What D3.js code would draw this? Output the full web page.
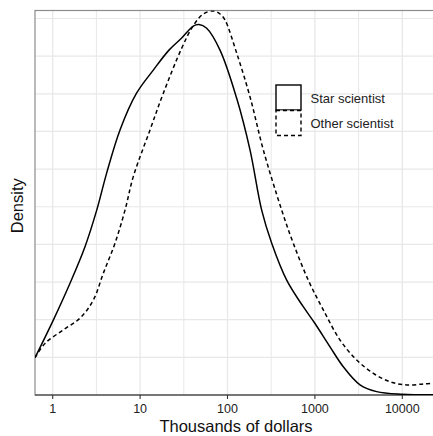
<!DOCTYPE html>
<html lang="en">
<head>
  <meta charset="UTF-8">
  <title>Density - Star vs Other scientist</title>
  <script src="https://d3js.org/d3.v7.min.js"></script>
  <style>
    body {
      margin: 0;
      background-color: #ffffff;
      font-family: "Liberation Sans", Arial, sans-serif;
    }
    .grid line {
      stroke: #e8e8e8;
    }
    .tick-label {
      font-size: 12.5px;
      fill: #222;
    }
    .axis-title {
      font-size: 16.5px;
      fill: #111;
    }
    .legend-text {
      font-size: 13px;
      fill: #222;
    }
  </style>
</head>
<body>
  <svg width="433" height="436"></svg>
  <script>
    // Thousands of dollars (log scale) and density
    const starX = [0.627, 1.016, 1.578, 2.342, 3.19, 4.15, 5.89, 9.07, 14.16, 21.4, 29.9, 40.6, 47.2,
                   57.8, 82.1, 127.4, 180.9, 246, 320.5, 475.6, 736, 1002, 1489, 2114, 3280, 5093, 9930, 23000];
    const starY = [0.099, 0.199, 0.297, 0.394, 0.491, 0.590, 0.704, 0.801, 0.863, 0.916, 0.948, 0.980, 0.984,
                   0.974, 0.916, 0.788, 0.651, 0.491, 0.403, 0.305, 0.2345, 0.190, 0.128, 0.075, 0.027, 0.009, 0.002, 0.0005];

    const otherX = [0.627, 0.816, 1.322, 2.053, 2.914, 3.79, 5.16, 6.72, 8.36, 12.98, 18.4, 29.9, 40.6,
                    52.9, 68.8, 82.1, 93.6, 127.4, 180.9, 256.9, 417, 566, 840, 1248, 1937, 3008, 4660, 7230,
                    11220, 17390, 23000];
    const otherY = [0.099, 0.137, 0.173, 0.204, 0.252, 0.323, 0.403, 0.491, 0.580, 0.704, 0.801, 0.921, 0.981,
                    1.012, 1.020, 1.012, 0.996, 0.908, 0.792, 0.651, 0.491, 0.403, 0.305, 0.226, 0.146, 0.093,
                    0.0576, 0.0353, 0.0266, 0.0292, 0.031];

    const xTicks = [1, 10, 100, 1000, 10000];
    const xMinor = [Math.sqrt(10), Math.sqrt(1000), Math.sqrt(100000), Math.sqrt(10000000)];
    const yGrid = [0.1, 0.2, 0.3, 0.4, 0.5, 0.6, 0.7, 0.8, 0.9, 1.0];

    const series = [
      { name: "Star scientist", xs: starX, ys: starY, dash: null },
      { name: "Other scientist", xs: otherX, ys: otherY, dash: "4,3" }
    ];

    const panel = { left: 35, top: 10.5, right: 437, bottom: 395 };

    const svg = d3.select("svg");

    const x = d3.scaleLog()
      .domain([1, 10000])
      .range([52.7, 402.3]);

    const y = d3.scaleLinear()
      .domain([0, 1])
      .range([395, 18.5]);

    svg.append("defs").append("clipPath")
      .attr("id", "clip")
      .append("rect")
      .attr("x", panel.left)
      .attr("y", panel.top)
      .attr("width", panel.right - panel.left)
      .attr("height", panel.bottom - panel.top);

    // Gridlines
    const grid = svg.append("g").attr("class", "grid");
    grid.selectAll(".minor-x")
      .data(xMinor)
      .enter()
      .append("line")
      .attr("x1", d => x(d)).attr("x2", d => x(d))
      .attr("y1", panel.top).attr("y2", panel.bottom)
      .attr("stroke-width", 1);
    grid.selectAll(".major-x")
      .data(xTicks)
      .enter()
      .append("line")
      .attr("x1", d => x(d)).attr("x2", d => x(d))
      .attr("y1", panel.top).attr("y2", panel.bottom)
      .attr("stroke-width", 1.3);
    grid.selectAll(".major-y")
      .data(yGrid)
      .enter()
      .append("line")
      .attr("x1", panel.left).attr("x2", panel.right)
      .attr("y1", d => y(d)).attr("y2", d => y(d))
      .attr("stroke-width", 1.2);

    // Panel border
    svg.append("rect")
      .attr("x", panel.left)
      .attr("y", panel.top)
      .attr("width", panel.right - panel.left)
      .attr("height", panel.bottom - panel.top)
      .attr("fill", "none")
      .attr("stroke", "#8c8c8c")
      .attr("stroke-width", 1.2);

    // Bottom axis line and ticks
    svg.append("line")
      .attr("x1", panel.left).attr("x2", panel.right)
      .attr("y1", panel.bottom).attr("y2", panel.bottom)
      .attr("stroke", "#333")
      .attr("stroke-width", 1.2);

    svg.selectAll(".xtick")
      .data(xTicks)
      .enter()
      .append("line")
      .attr("x1", d => x(d)).attr("x2", d => x(d))
      .attr("y1", panel.bottom).attr("y2", panel.bottom + 4)
      .attr("stroke", "#333")
      .attr("stroke-width", 1.1);

    svg.selectAll(".tick-label")
      .data(xTicks)
      .enter()
      .append("text")
      .attr("class", "tick-label")
      .attr("x", d => x(d))
      .attr("y", 413)
      .attr("text-anchor", "middle")
      .text(d => d3.format("d")(d));

    // Density curves
    const line = d3.line()
      .x(d => x(d[0]))
      .y(d => y(d[1]))
      .curve(d3.curveCatmullRom.alpha(0.5));

    const lines = svg.append("g").attr("clip-path", "url(#clip)");
    series.forEach(s => {
      lines.append("path")
        .datum(d3.zip(s.xs, s.ys))
        .attr("d", line)
        .attr("fill", "none")
        .attr("stroke", "#000")
        .attr("stroke-width", 1.5)
        .attr("stroke-dasharray", s.dash);
    });

    // Axis titles
    svg.append("text")
      .attr("class", "axis-title")
      .attr("x", (panel.left + panel.right) / 2)
      .attr("y", 432)
      .attr("text-anchor", "middle")
      .text("Thousands of dollars");

    svg.append("text")
      .attr("class", "axis-title")
      .attr("transform", `translate(23, ${(panel.top + panel.bottom) / 2 + 3}) rotate(-90)`)
      .attr("text-anchor", "middle")
      .text("Density");

    // Legend
    const legend = svg.append("g").attr("transform", "translate(276, 85)");
    series.forEach((s, i) => {
      legend.append("rect")
        .attr("x", 0)
        .attr("y", i * 25.5)
        .attr("width", 25)
        .attr("height", 25)
        .attr("fill", "#fff")
        .attr("stroke", "#000")
        .attr("stroke-width", 1.4)
        .attr("stroke-dasharray", s.dash);
      legend.append("text")
        .attr("class", "legend-text")
        .attr("x", 34.5)
        .attr("y", i * 25.5 + 17.5)
        .text(s.name);
    });
  </script>
</body>
</html>
